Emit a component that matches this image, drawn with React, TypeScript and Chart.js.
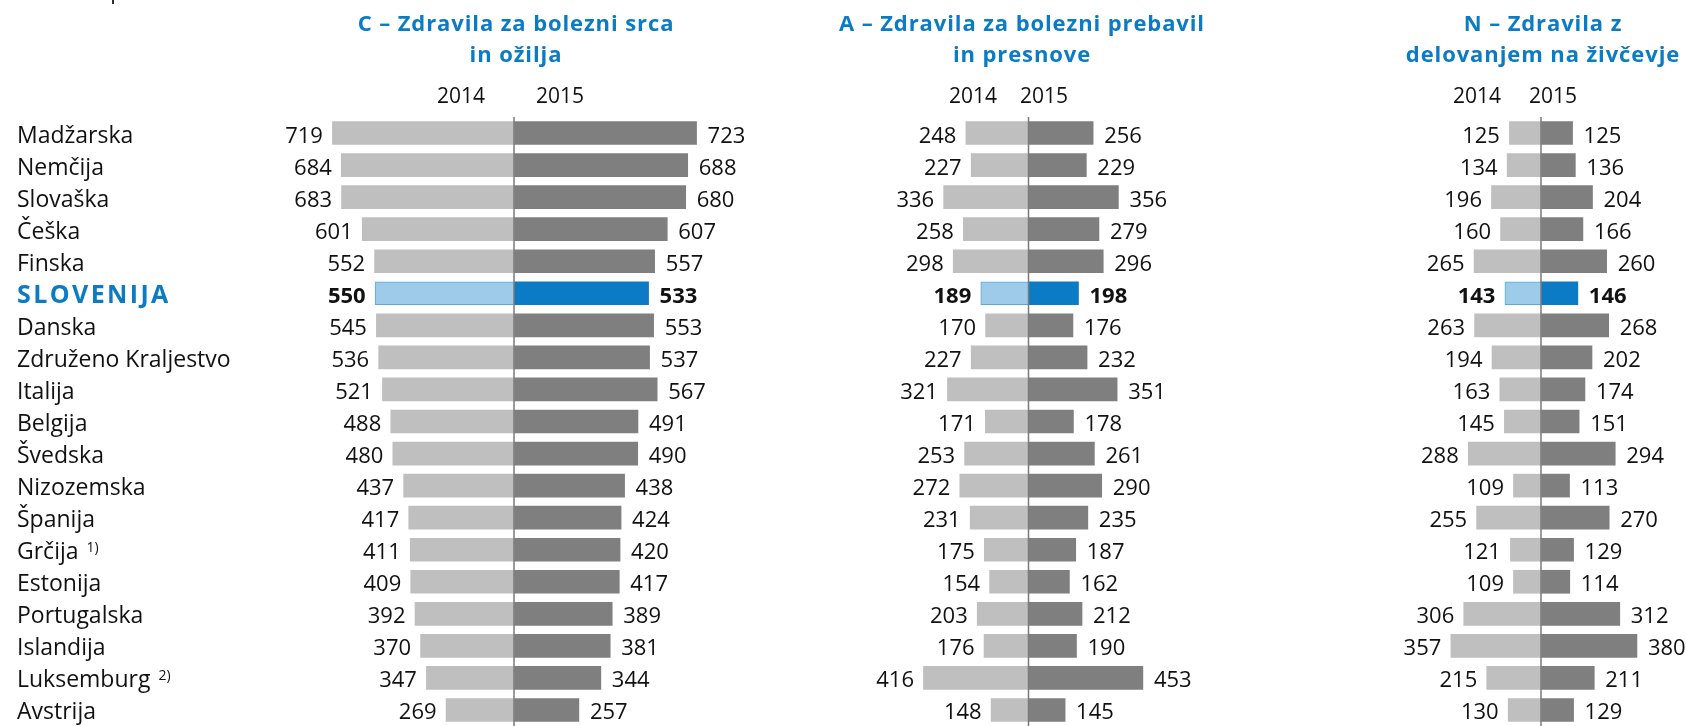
import { useEffect, useRef } from 'react';
import { Chart, registerables } from 'chart.js';

Chart.register(...registerables);

// ---------- data ----------
const countries = [
  'Madžarska', 'Nemčija', 'Slovaška', 'Češka', 'Finska', 'SLOVENIJA', 'Danska',
  'Združeno Kraljestvo', 'Italija', 'Belgija', 'Švedska', 'Nizozemska', 'Španija',
  'Grčija', 'Estonija', 'Portugalska', 'Islandija', 'Luksemburg', 'Avstrija',
];
const footnotes = ['', '', '', '', '', '', '', '', '', '', '', '', '', '1)', '', '', '', '2)', ''];
const highlightCountry = 'SLOVENIJA';
const yearLabels = ['2014', '2015'];
const unitText = 'na 1.000 prebivalcev';

const titleC = ['C – Zdravila za bolezni srca', 'in ožilja'];
const titleA = ['A – Zdravila za bolezni prebavil', 'in presnove'];
const titleN = ['N – Zdravila z', 'delovanjem na živčevje'];

const c2014 = [719, 684, 683, 601, 552, 550, 545, 536, 521, 488, 480, 437, 417, 411, 409, 392, 370, 347, 269];
const c2015 = [723, 688, 680, 607, 557, 533, 553, 537, 567, 491, 490, 438, 424, 420, 417, 389, 381, 344, 257];
const a2014 = [248, 227, 336, 258, 298, 189, 170, 227, 321, 171, 253, 272, 231, 175, 154, 203, 176, 416, 148];
const a2015 = [256, 229, 356, 279, 296, 198, 176, 232, 351, 178, 261, 290, 235, 187, 162, 212, 190, 453, 145];
const n2014 = [125, 134, 196, 160, 265, 143, 263, 194, 163, 145, 288, 109, 255, 121, 109, 306, 357, 215, 130];
const n2015 = [125, 136, 204, 166, 260, 146, 268, 202, 174, 151, 294, 113, 270, 129, 114, 312, 380, 211, 129];

// ---------- layout / style ----------
const W = 1686;
const H = 726;
const FONT = '"Open Sans", "Noto Sans", sans-serif';
const PX_PER_UNIT = 0.2525;
const BLUE = '#0b7cc3';
const LIGHT = '#bfbfbf';
const DARK = '#7f7f7f';
const HI_LIGHT = '#9dcbe9';
const HI_LIGHT_BORDER = '#5aa9dc';
const HI_DARK = '#0a7bc4';
const TEXT = '#111111';

type Panel = {
  title: string[];
  v2014: number[];
  v2015: number[];
  center: number;
  halfWidth: number;
  titleX: number;
  yearX: [number, number];
  rowLabels: boolean;
};

const panels: Panel[] = [
  { title: titleC, v2014: c2014, v2015: c2015, center: 514, halfWidth: 200, titleX: 516, yearX: [461, 560], rowLabels: true },
  { title: titleA, v2014: a2014, v2015: a2015, center: 1028.5, halfWidth: 130, titleX: 1022, yearX: [973, 1044], rowLabels: false },
  { title: titleN, v2014: n2014, v2015: n2015, center: 1541, halfWidth: 112, titleX: 1543, yearX: [1477, 1553], rowLabels: false },
];

const hiIdx = countries.indexOf(highlightCountry);

function makePlugin(p: Panel) {
  return {
    id: 'overlay',
    afterDatasetsDraw(chart: any) {
      const ctx: CanvasRenderingContext2D = chart.ctx;
      const xs = chart.scales.x;
      const ys = chart.scales.y;
      const area = chart.chartArea;
      const x0 = xs.getPixelForValue(0);
      ctx.save();
      // centre line
      ctx.strokeStyle = '#7a7a7a';
      ctx.lineWidth = 1.5;
      ctx.beginPath();
      ctx.moveTo(x0, area.top);
      ctx.lineTo(x0, area.bottom + 2);
      ctx.stroke();

      // values
      ctx.fillStyle = TEXT;
      ctx.textBaseline = 'alphabetic';
      const m0 = chart.getDatasetMeta(0);
      const m1 = chart.getDatasetMeta(1);
      m0.data.forEach((el: any, i: number) => {
        ctx.font = `${i === hiIdx ? 'bold ' : ''}22px ${FONT}`;
        ctx.textAlign = 'right';
        ctx.fillText(String(p.v2014[i]), el.x - 9.5, el.y + 9.5);
      });
      m1.data.forEach((el: any, i: number) => {
        ctx.font = `${i === hiIdx ? 'bold ' : ''}22px ${FONT}`;
        ctx.textAlign = 'left';
        ctx.fillText(String(p.v2015[i]), el.x + 11, el.y + 9.5);
      });

      // title
      ctx.fillStyle = BLUE;
      ctx.font = `bold 22px ${FONT}`;
      ctx.textAlign = 'center';
      (ctx as any).letterSpacing = '0.9px';
      ctx.fillText(p.title[0], p.titleX, 30.7);
      ctx.fillText(p.title[1], p.titleX, 61.5);
      (ctx as any).letterSpacing = '0px';

      // years
      ctx.fillStyle = TEXT;
      ctx.font = `21px ${FONT}`;
      ctx.fillText(yearLabels[0], p.yearX[0], 102.7);
      ctx.fillText(yearLabels[1], p.yearX[1], 102.7);

      if (p.rowLabels) {
        ctx.textAlign = 'left';
        ctx.font = `22px ${FONT}`;
        ctx.fillText(unitText, 17, -1);
        countries.forEach((c, i) => {
          const y = ys.getPixelForValue(i) + 9.5;
          if (i === hiIdx) {
            ctx.fillStyle = BLUE;
            ctx.font = `bold 25px ${FONT}`;
            (ctx as any).letterSpacing = '2.4px';
          } else {
            ctx.fillStyle = TEXT;
            ctx.font = `23px ${FONT}`;
          }
          ctx.fillText(c, 17, y);
          const w = ctx.measureText(c).width;
          (ctx as any).letterSpacing = '0px';
          if (footnotes[i]) {
            ctx.font = `14px ${FONT}`;
            ctx.fillText(footnotes[i], 17 + w + 8, y - 7);
          }
        });
      }
      ctx.restore();
    },
  };
}

function PanelChart({ p }: { p: Panel }) {
  const ref = useRef<HTMLCanvasElement>(null);
  useEffect(() => {
    if (!ref.current) return;
    const maxUnits = p.halfWidth / PX_PER_UNIT;
    const chart = new Chart(ref.current, {
      type: 'bar',
      data: {
        labels: countries,
        datasets: [
          {
            label: yearLabels[0],
            data: p.v2014.map((v) => -v),
            backgroundColor: countries.map((_, i) => (i === hiIdx ? HI_LIGHT : LIGHT)),
            borderColor: countries.map((_, i) => (i === hiIdx ? HI_LIGHT_BORDER : 'rgba(0,0,0,0)')),
            borderWidth: countries.map((_, i) => (i === hiIdx ? 1 : 0)),
            barThickness: 23,
          },
          {
            label: yearLabels[1],
            data: p.v2015,
            backgroundColor: countries.map((_, i) => (i === hiIdx ? HI_DARK : DARK)),
            borderWidth: 0,
            barThickness: 23,
          },
        ],
      },
      options: {
        indexAxis: 'y',
        responsive: false,
        animation: false,
        devicePixelRatio: 1,
        events: [],
        layout: {
          padding: {
            left: p.center - p.halfWidth,
            right: W - p.center - p.halfWidth,
            top: 117,
            bottom: 0,
          },
        },
        plugins: {
          legend: { display: false },
          tooltip: { enabled: false },
          title: { display: false },
        },
        scales: {
          x: { type: 'linear', min: -maxUnits, max: maxUnits, stacked: true, display: false },
          y: { type: 'category', stacked: true, display: false, offset: true },
        },
      } as any,
      plugins: [makePlugin(p)],
    });
    return () => chart.destroy();
  }, [p]);
  return (
    <canvas
      ref={ref}
      width={W}
      height={H}
      style={{ position: 'absolute', left: 0, top: 0, width: W, height: H }}
    />
  );
}

export default function App() {
  return (
    <div
      style={{
        position: 'fixed',
        left: 0,
        top: 0,
        width: W,
        height: H,
        overflow: 'hidden',
        background: '#ffffff',
      }}
    >
      {panels.map((p, i) => (
        <PanelChart key={i} p={p} />
      ))}
    </div>
  );
}
